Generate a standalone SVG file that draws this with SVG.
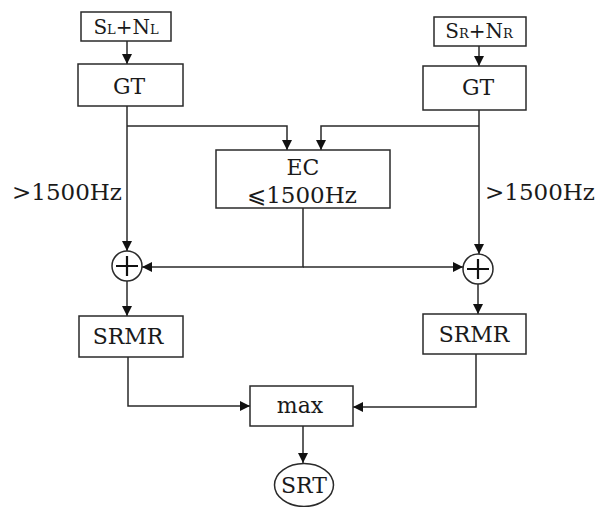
<svg xmlns="http://www.w3.org/2000/svg" width="602" height="507" viewBox="0 0 602 507">
<defs>
<style>
.box{fill:#fff;stroke:#2a2a2a;stroke-width:1.5}
.ln{fill:none;stroke:#2a2a2a;stroke-width:1.5}
.t{font-family:"DejaVu Serif","Liberation Serif",serif;font-size:22px;fill:#1a1a1a}
.m{text-anchor:middle}
.hz{font-size:23px}
.s{font-size:13px}
.plus{stroke:#111;stroke-width:2.2;fill:none}
</style>
<marker id="ah" viewBox="0 0 10 10" refX="10" refY="5" markerWidth="11" markerHeight="10" markerUnits="userSpaceOnUse" orient="auto">
<path d="M0,0 L10,5 L0,10 Z" fill="#111"/>
</marker>
</defs>
<rect width="602" height="507" fill="#fff"/>
<g id="connectors">
<line class="ln" x1="127" y1="41" x2="127" y2="64" marker-end="url(#ah)"/>
<line class="ln" x1="479" y1="46" x2="479" y2="66" marker-end="url(#ah)"/>
<line class="ln" x1="127" y1="106" x2="127" y2="251" marker-end="url(#ah)"/>
<polyline class="ln" points="127,126 287,126 287,150" marker-end="url(#ah)"/>
<line class="ln" x1="479" y1="110" x2="479" y2="254" marker-end="url(#ah)"/>
<polyline class="ln" points="479,126 321,126 321,150" marker-end="url(#ah)"/>
<polyline class="ln" points="303,208 303,267 142,267" marker-end="url(#ah)"/>
<line class="ln" x1="303" y1="267" x2="463" y2="267" marker-end="url(#ah)"/>
<line class="ln" x1="127" y1="281" x2="127" y2="316" marker-end="url(#ah)"/>
<line class="ln" x1="478" y1="284" x2="478" y2="314" marker-end="url(#ah)"/>
<polyline class="ln" points="128,357 128,406 250,406" marker-end="url(#ah)"/>
<polyline class="ln" points="476,354 476,407 353,407" marker-end="url(#ah)"/>
<line class="ln" x1="303" y1="426" x2="303" y2="463" marker-end="url(#ah)"/>
</g>
<g id="input-left">
<rect class="box" x="81" y="12" width="90" height="29"/>
<text class="t m" x="126" y="34" style="font-size:20px">S<tspan class="s">L</tspan>+N<tspan class="s">L</tspan></text>
</g>
<g id="input-right">
<rect class="box" x="434" y="17" width="92" height="29"/>
<text class="t m" x="479" y="38" style="font-size:20px">S<tspan class="s">R</tspan>+N<tspan class="s">R</tspan></text>
</g>
<g id="gt-left">
<rect class="box" x="78" y="64" width="105" height="42"/>
<text class="t m" x="129" y="94">GT</text>
</g>
<g id="gt-right">
<rect class="box" x="423" y="66" width="103" height="44"/>
<text class="t m" x="478" y="95">GT</text>
</g>
<g id="ec">
<rect class="box" x="216" y="150" width="174" height="58"/>
<text class="t m" x="303" y="175">EC</text>
<text class="t m hz" x="302" y="203">⩽1500Hz</text>
</g>
<g id="label-left">
<text class="t hz" x="12" y="200">&gt;1500Hz</text>
</g>
<g id="label-right">
<text class="t hz" x="485" y="200">&gt;1500Hz</text>
</g>
<g id="sum-left">
<circle class="box" cx="127" cy="266" r="15"/>
<path class="plus" d="M116,266 H138 M127,256 V276"/>
</g>
<g id="sum-right">
<circle class="box" cx="478" cy="269" r="15"/>
<path class="plus" d="M467,269 H489 M478,259 V279"/>
</g>
<g id="srmr-left">
<rect class="box" x="79" y="316" width="104" height="41"/>
<text class="t m" x="128" y="344">SRMR</text>
</g>
<g id="srmr-right">
<rect class="box" x="423" y="314" width="103" height="40"/>
<text class="t m" x="474" y="342">SRMR</text>
</g>
<g id="max">
<rect class="box" x="250" y="386" width="103" height="40"/>
<text class="t m" x="300" y="413">max</text>
</g>
<g id="srt">
<ellipse class="box" cx="304" cy="485" rx="29.5" ry="21.5"/>
<text class="t m" x="304" y="493">SRT</text>
</g>
</svg>
